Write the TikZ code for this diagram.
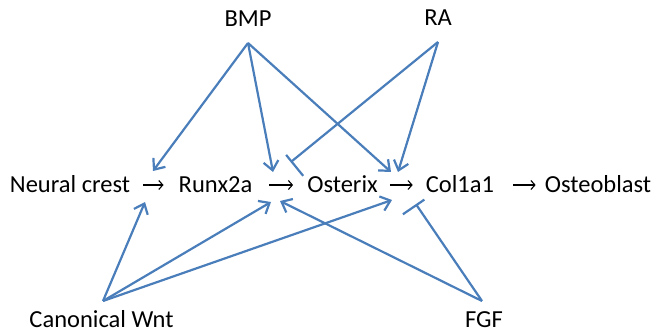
\documentclass[tikz,border=0pt]{standalone}
\usepackage{fontspec}
\setmainfont{Carlito}
\usetikzlibrary{arrows.meta,calc}
\definecolor{linkblue}{HTML}{4A7EBB}
\begin{document}
\begin{tikzpicture}[x=1pt,y=-1pt,
  lbl/.style={font=\fontsize{24.5}{29}\selectfont, inner sep=0pt, anchor=base},
  act/.style={draw=linkblue, line width=2.2pt, -{Straight Barb[length=9pt,width=15pt]}},
  inh/.style={draw=linkblue, line width=2.2pt},
  flow/.style={draw=black, line width=1.1pt, -{Straight Barb[length=4pt,width=9pt]}}]
\useasboundingbox (0,0) rectangle (656,334);

% pathway row
\node[lbl] (nc)  at (70,192)    {Neural crest};
\node[lbl] (rx)  at (215.5,192) {Runx2a};
\node[lbl] (os)  at (342.5,192) {Osterix};
\node[lbl] (col) at (460,192)   {Col1a1};
\node[lbl] (ost) at (598,192)   {Osteoblast};

\draw[flow, shorten <=13pt, shorten >=15pt] ([yshift=7pt]nc.base east)  -- ([yshift=7pt]rx.base west);
\draw[flow, shorten <=17pt, shorten >=14pt] ([yshift=7pt]rx.base east)  -- ([yshift=7pt]os.base west);
\draw[flow, shorten <=12pt, shorten >=13pt] ([yshift=7pt]os.base east)  -- ([yshift=7pt]col.base west);
\draw[flow, shorten <=19pt, shorten >=9pt]  ([yshift=7pt]col.base east) -- ([yshift=7pt]ost.base west);

% signals
\node[lbl] (bmp) at (248,27)    {BMP};
\node[lbl] (ra)  at (438,26)    {RA};
\node[lbl] (wnt) at (101.5,327) {Canonical Wnt};
\node[lbl] (fgf) at (484,327)   {FGF};

% line origins below/above the signal labels
\coordinate (bmpA) at (248,43);
\coordinate (raA)  at (438,42);
\coordinate (wntA) at (103,301);
\coordinate (fgfA) at (482,301);

% targets around the pathway row
\coordinate (bmpT1) at (153,171);
\coordinate (bmpT2) at (273,172);
\coordinate (bmpT3) at (391,172);
\coordinate (raBar) at (291.5,161.5);
\coordinate (raT)   at (398,172);
\coordinate (wntT1) at (145,202);
\coordinate (wntT2) at (271,202);
\coordinate (wntT3) at (392,200);
\coordinate (fgfT)  at (280,201);
\coordinate (fgfBar) at (416.5,205);

% BMP
\draw[act] (bmpA) -- (bmpT1);
\draw[act] (bmpA) -- (bmpT2);
\draw[act] (bmpA) -- (bmpT3);

% RA
\draw[inh] (raA) -- (raBar);
\draw[inh] ($(raBar)!8.5pt!90:(raA)$) -- ($(raBar)!18.5pt!-90:(raA)$);
\draw[act] (raA) -- (raT);

% Canonical Wnt
\draw[act] (wntA) -- (wntT1);
\draw[act] (wntA) -- (wntT2);
\draw[act] (wntA) -- (wntT3);

% FGF
\draw[act] (fgfA) -- (fgfT);
\draw[inh] (fgfA) -- (fgfBar);
\draw[inh] ($(fgfBar)!9.5pt!90:(fgfA)$) -- ($(fgfBar)!16.5pt!-90:(fgfA)$);
\end{tikzpicture}
\end{document}
